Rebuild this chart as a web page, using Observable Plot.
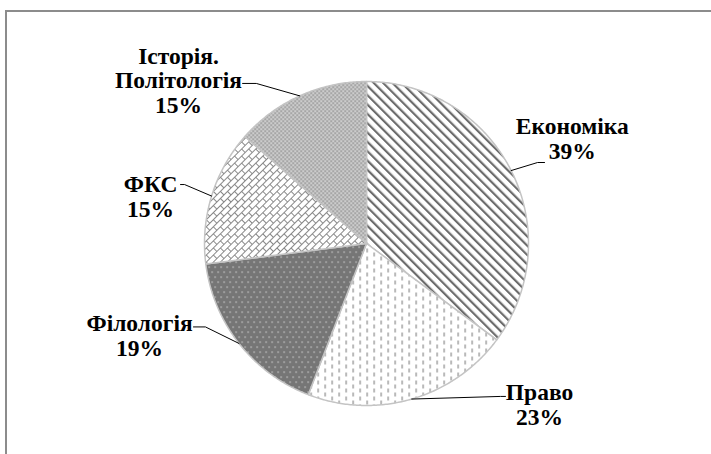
<!DOCTYPE html>
<html>
<head>
<meta charset="utf-8">
<script src="https://cdn.jsdelivr.net/npm/d3@7"></script>
<script src="https://cdn.jsdelivr.net/npm/@observablehq/plot@0.6"></script>
<style>
  html, body { margin: 0; padding: 0; background: #fff; overflow: hidden; width: 711px; height: 454px; }
  #frame { position: absolute; left: 5px; top: 10px; width: 800px; height: 600px;
           border-left: 2px solid #8c8c8c; border-top: 2px solid #8c8c8c; }
  #chart { position: absolute; left: 0; top: 0; }
</style>
</head>
<body>
<svg width="0" height="0" style="position:absolute">
  <defs>
    <pattern id="pEcon" patternUnits="userSpaceOnUse" width="6.6" height="6.6" patternTransform="rotate(-45)">
      <rect width="6.6" height="6.6" fill="#fff"/>
      <rect x="0" y="0" width="2.2" height="6.6" fill="#6c6c6c"/>
    </pattern>
    <pattern id="pPravo" patternUnits="userSpaceOnUse" width="14" height="8">
      <rect width="14" height="8" fill="#fff"/>
      <rect x="2" y="0" width="1.2" height="4" fill="#8a8a8a"/>
      <rect x="9" y="4" width="1.2" height="4" fill="#8a8a8a"/>
    </pattern>
    <pattern id="pFilol" patternUnits="userSpaceOnUse" width="6" height="10">
      <rect width="6" height="10" fill="#767676"/>
      <rect x="1" y="1" width="1.2" height="1.2" fill="#e0e0e0"/>
      <rect x="4" y="6" width="1.2" height="1.2" fill="#e0e0e0"/>
    </pattern>
    <pattern id="pFks" patternUnits="userSpaceOnUse" width="10" height="10" patternTransform="rotate(-45)">
      <rect width="10" height="10" fill="#fff"/>
      <path d="M0,0.5H10M0,5.5H10M0.5,0V5M5.5,5V10" stroke="#888" stroke-width="1" fill="none"/>
    </pattern>
    <pattern id="pHist" patternUnits="userSpaceOnUse" width="4" height="4">
      <rect width="4" height="4" fill="#a6a6a6"/>
      <rect x="0" y="0" width="1.3" height="1.3" fill="#fff"/>
      <rect x="2" y="2" width="1.3" height="1.3" fill="#fff"/>
    </pattern>
  </defs>
</svg>
<div id="frame"></div>
<div id="chart"></div>
<script>
// ---- data ----
const categories = ["Економіка", "Право", "Філологія", "ФКС", "Історія. Політологія"];
const values = [39, 23, 19, 15, 15];
const labelNames = ["Економіка", "Право", "Філологія", "ФКС", "Історія.\nПолітологія"];
const percentLabels = ["39%", "23%", "19%", "15%", "15%"];

// ---- styling / layout (not data) ----
const patterns = ["url(#pEcon)", "url(#pPravo)", "url(#pFilol)", "url(#pFks)", "url(#pHist)"];
const W = 711, H = 454;
const cx = 366, cy = 243, R = 162; // pie placement in pixels
// label block centre, in pie-radius units relative to the centre (y up)
const labelPos = [[1.27, 0.648], [1.068, -0.994], [-1.401, -0.568], [-1.333, 0.29], [-1.160, 1.006]];
// leader: text-side point and elbow, in pie-radius units
const leaderText = [[[1.099, 0.500], [1.056, 0.500]], [[0.858, -0.944], [0.827, -0.944]],
                    [[-1.068, -0.515], [-0.994, -0.515]], [[-1.148, 0.364], [-1.123, 0.364]],
                    [[-0.765, 0.988], [-0.680, 0.988]]];

const arcs = d3.pie().sort(null).value(d => d)(values);

const slicePts = [];
arcs.forEach((a, i) => {
  slicePts.push({cat: categories[i], fill: patterns[i], x: 0, y: 0});
  const n = Math.max(2, Math.ceil((a.endAngle - a.startAngle) / 0.01));
  for (let k = 0; k <= n; k++) {
    const t = a.startAngle + (a.endAngle - a.startAngle) * k / n;
    slicePts.push({cat: categories[i], fill: patterns[i], x: Math.sin(t), y: Math.cos(t)});
  }
});

const leaderPts = [];
arcs.forEach((a, i) => {
  const m = (a.startAngle + a.endAngle) / 2;
  const [p0, p1] = leaderText[i];
  leaderPts.push({cat: categories[i], x: p0[0], y: p0[1]});
  leaderPts.push({cat: categories[i], x: p1[0], y: p1[1]});
  leaderPts.push({cat: categories[i], x: Math.sin(m), y: Math.cos(m)});
});

const labelData = categories.map((c, i) => ({
  text: labelNames[i] + "\n" + percentLabels[i], x: labelPos[i][0], y: labelPos[i][1]
}));

const chart = Plot.plot({
  width: W, height: H, margin: 0,
  x: {domain: [-cx / R, (W - cx) / R], range: [0, W], axis: null},
  y: {domain: [cy / R, -(H - cy) / R], range: [0, H], axis: null},
  color: {type: "identity"},
  style: {background: "transparent", overflow: "visible"},
  marks: [
    Plot.line(slicePts, {x: "x", y: "y", z: "cat", fill: "fill", curve: "linear-closed",
      stroke: "#c4c4c4", strokeWidth: 1.5, strokeLinejoin: "round"}),
    Plot.line(leaderPts, {x: "x", y: "y", z: "cat", stroke: "#000", strokeWidth: 1}),
    Plot.text(labelData, {x: "x", y: "y", text: "text", fontSize: 23.5, lineHeight: 1.04,
      fontFamily: "Liberation Serif", fontWeight: "bold", fill: "#000", textAnchor: "middle"})
  ]
});
document.getElementById("chart").appendChild(chart);
</script>
</body>
</html>
